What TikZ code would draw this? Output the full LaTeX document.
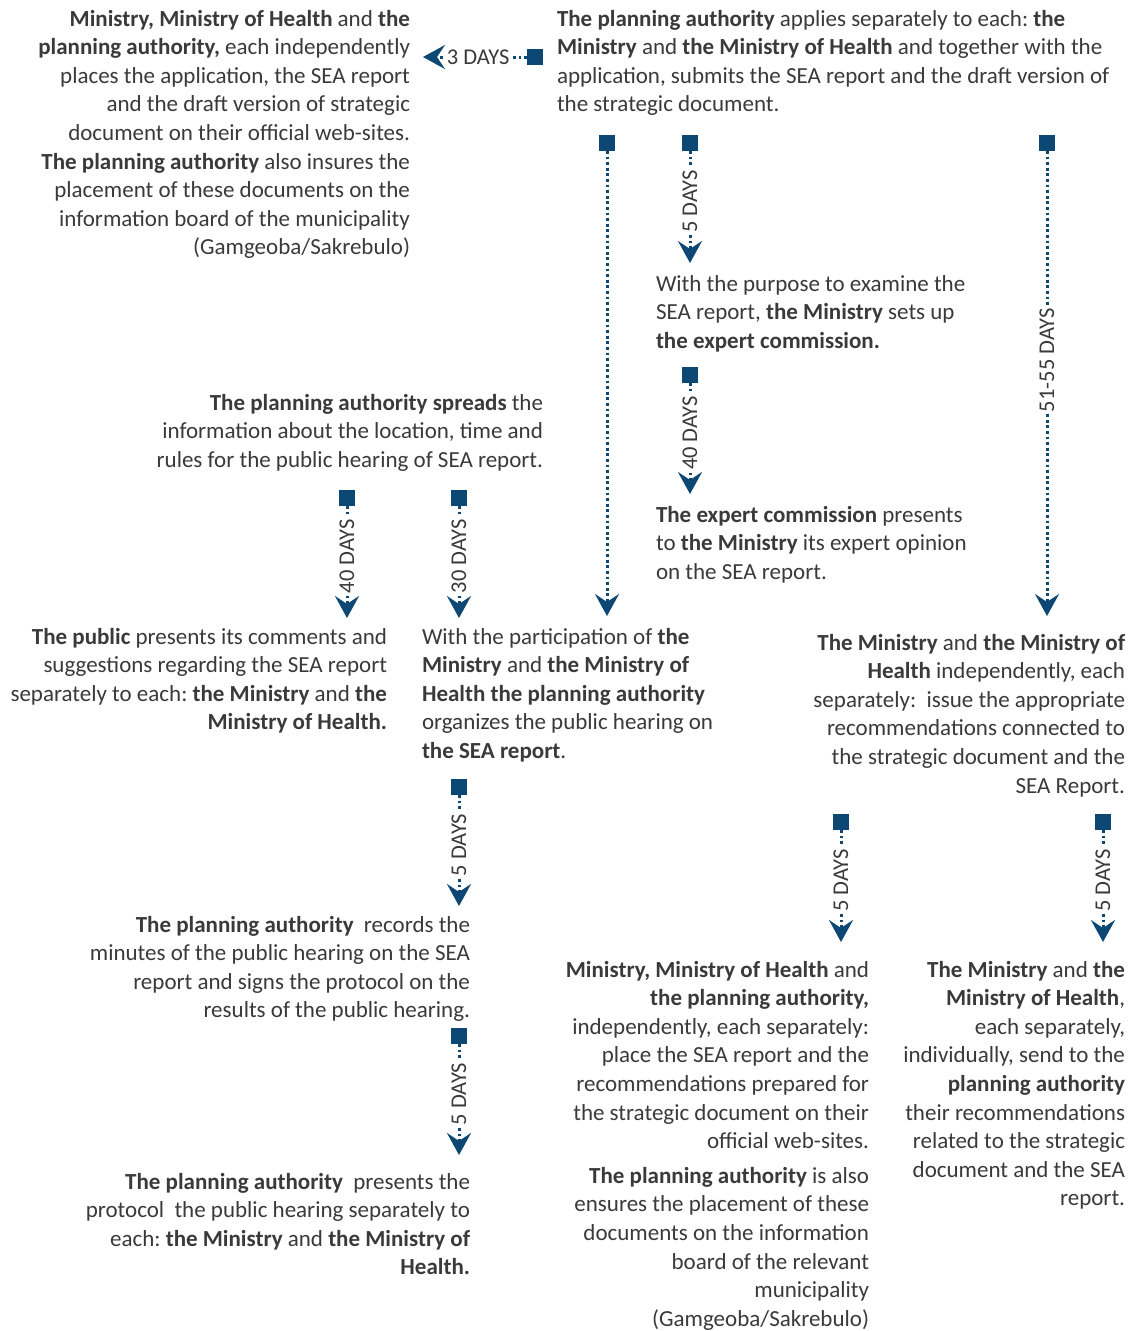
\documentclass[tikz,border=0pt]{standalone}
\usepackage{fontspec}
\setmainfont{Carlito}
\usetikzlibrary{arrows.meta}
\definecolor{txt}{RGB}{58,58,58}
\definecolor{navy}{RGB}{12,72,115}
\tikzset{
  blk/.style={inner sep=0pt, outer sep=0pt, text=txt, font=\fontsize{23}{28.6}\selectfont},
  lblk/.style={blk, align=left, anchor=north west},
  rblk/.style={blk, align=right, anchor=north east},
  sq/.style={fill=navy, draw=none, minimum size=16pt, inner sep=0pt, outer sep=0pt},
  con/.style={draw=navy, line width=3pt, dash pattern=on 2.8pt off 2.8pt,
    -{Stealth[length=22pt,width=24pt,inset=8pt,sep=0pt]}, shorten >=0pt},
  dlab/.style={fill=white, text=txt, inner sep=2pt, font=\fontsize{22.5}{24}\selectfont},
}
\newcommand{\B}[1]{\textbf{#1}}
\frenchspacing
\begin{document}
\frenchspacing
\begin{tikzpicture}[x=1pt,y=-1pt]
\useasboundingbox[fill=white] (0,0) rectangle (1134,1331);
% text blocks
\node[rblk] (A) at (410,6) {\strut\B{Ministry, Ministry of Health} and \B{the}\\
\B{planning authority,} each independently\\
places the application, the SEA report\\
and the draft version of strategic\\
document on their official web-sites.\\
\B{The planning authority} also insures the\\
placement of these documents on the\\
information board of the municipality\\
(Gamgeoba/Sakrebulo)};
\node[lblk] (Bb) at (557,6) {\strut\B{The planning authority} applies separately to each: \B{the}\\
\B{Ministry} and \B{the Ministry of Health} and together with the\\
application, submits the SEA report and the draft version of\\
the strategic document.};
\node[lblk] (C) at (656,271) {\strut With the purpose to examine the\\
SEA report, \B{the Ministry} sets up\\
\B{the expert commission.}};
\node[rblk] (D) at (543,390) {\strut\B{The planning authority spreads} the\\
information about the location, time and\\
rules for the public hearing of SEA report.};
\node[lblk] (E2) at (656,502) {\strut\B{The expert commission} presents\\
to \B{the Ministry} its expert opinion\\
on the SEA report.};
\node[rblk] (F) at (387,624) {\strut\B{The public} presents its comments and\\
suggestions regarding the SEA report\\
separately to each: \B{the Ministry} and \B{the}\\
\B{Ministry of Health.}};
\node[lblk] (E) at (422,624) {\strut With the participation of \B{the}\\
\B{Ministry} and \B{the Ministry of}\\
\B{Health the planning authority}\\
organizes the public hearing on\\
\B{the SEA report}.};
\node[rblk] (H) at (1125,630) {\strut\B{The Ministry} and \B{the Ministry of}\\
\B{Health} independently, each\\
separately:\ \ issue the appropriate\\
recommendations connected to\\
the strategic document and the\\
SEA Report.};
\node[rblk] (I) at (470,912) {\strut\B{The planning authority}\ \ records the\\
minutes of the public hearing on the SEA\\
report and signs the protocol on the\\
results of the public hearing.};
\node[rblk] (J) at (470,1169) {\strut\B{The planning authority}\ \ presents the\\
protocol\ \ the public hearing separately to\\
each: \B{the Ministry} and \B{the Ministry of}\\
\B{Health.}};
\node[rblk] (G) at (869,957) {\strut\B{Ministry, Ministry of Health} and\\
\B{the planning authority,}\\
independently, each separately:\\
place the SEA report and the\\
recommendations prepared for\\
the strategic document on their\\
official web-sites.\\[6pt]
\B{The planning authority} is also\\
ensures the placement of these\\
documents on the information\\
board of the relevant\\
municipality\\
(Gamgeoba/Sakrebulo)};
\node[rblk] (K) at (1125,957) {\strut\B{The Ministry} and \B{the}\\
\B{Ministry of Health},\\
each separately,\\
individually, send to the\\
\B{planning authority}\\
their recommendations\\
related to the strategic\\
document and the SEA\\
report.};
% squares
\node[sq] (s0) at (535,57) {};
\node[sq] (s1) at (607,143) {};
\node[sq] (s2) at (690,143) {};
\node[sq] (s3) at (1047,143) {};
\node[sq] (s4) at (690,375) {};
\node[sq] (s5) at (347,498) {};
\node[sq] (s6) at (459,498) {};
\node[sq] (s7) at (459,787) {};
\node[sq] (s8) at (841,822) {};
\node[sq] (s9) at (1103,822) {};
\node[sq] (s10) at (459,1036) {};
% tips
\coordinate (t0) at (423,57);
\coordinate (t1) at (607,616);
\coordinate (t2) at (690,263);
\coordinate (t3) at (1047,616);
\coordinate (t4) at (690,494);
\coordinate (t5) at (347,618);
\coordinate (t6) at (459,618);
\coordinate (t7) at (459,906);
\coordinate (t8) at (841,942);
\coordinate (t9) at (1103,942);
\coordinate (t10) at (459,1155);
% connectors
\draw[con] (s0) -- node[dlab, pos=0.47] (l0) {3 DAYS} (t0);
\draw[con] (s1) -- (t1);
\draw[con] (s2) -- node[dlab, rotate=90, pos=0.45] (l2) {5 DAYS} (t2);
\draw[con] (s3) -- node[dlab, rotate=90, pos=0.45] (l3) {51-55 DAYS} (t3);
\draw[con] (s4) -- node[dlab, rotate=90, pos=0.45] (l4) {40 DAYS} (t4);
\draw[con] (s5) -- node[dlab, rotate=90, pos=0.45] (l5) {40 DAYS} (t5);
\draw[con] (s6) -- node[dlab, rotate=90, pos=0.45] (l6) {30 DAYS} (t6);
\draw[con] (s7) -- node[dlab, rotate=90, pos=0.45] (l7) {5 DAYS} (t7);
\draw[con] (s8) -- node[dlab, rotate=90, pos=0.45] (l8) {5 DAYS} (t8);
\draw[con] (s9) -- node[dlab, rotate=90, pos=0.45] (l9) {5 DAYS} (t9);
\draw[con] (s10) -- node[dlab, rotate=90, pos=0.45] (l10) {5 DAYS} (t10);
\end{tikzpicture}
\end{document}
